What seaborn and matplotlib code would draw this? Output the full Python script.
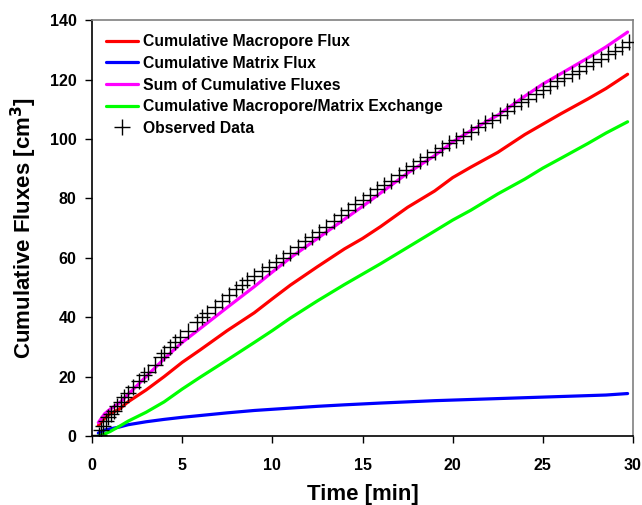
import matplotlib
matplotlib.use('Agg')
import matplotlib.pyplot as plt
from matplotlib.lines import Line2D
import pandas as pd
import seaborn as sns

# simulated curves (min, cm3)
time_sim = [0.35, 0.7, 1, 1.5, 2, 3, 4, 5, 6, 7.5, 9, 10, 11, 12.5, 14, 15, 16,
            17.5, 19, 20, 21, 22.5, 24, 25, 26, 27.5, 28.5, 29.7]
macropore = [3.5, 6, 7.5, 9, 11.5, 15.5, 20, 24.8, 29, 35.5, 41.5, 46.2, 50.8, 57,
             63, 66.5, 70.5, 77, 82.5, 87, 90.5, 95.5, 101.5, 105, 108.5, 113.5, 117, 121.8]
matrix = [1, 2, 2.4, 3, 3.8, 4.8, 5.6, 6.3, 6.9, 7.8, 8.6, 9, 9.4, 10, 10.5, 10.8,
          11.1, 11.5, 11.9, 12.1, 12.3, 12.6, 12.9, 13.1, 13.3, 13.6, 13.8, 14.3]
total = [4.5, 7.5, 9, 11, 14, 20, 26, 31.5, 36.2, 43.3, 50.3, 55.2, 60, 66.5, 73,
         77.3, 81.8, 88.5, 94.4, 99, 102.8, 108, 114.4, 118.5, 122, 127.3, 131, 136]
exchange = [0, 0.7, 1.5, 3.2, 5, 8, 11.5, 15.8, 19.8, 25.6, 31.5, 35.5, 39.7, 45.5,
            51, 54.5, 58, 63.5, 69, 72.7, 76, 81.5, 86.5, 90.2, 93.5, 98.5, 102, 105.8]

# observed data
time_obs = [0.4, 0.5, 0.6, 0.75, 0.9, 1.05, 1.2, 1.4, 1.6, 1.8, 2.0, 2.3, 2.6, 2.9,
            3.1, 3.5, 3.8, 4.0, 4.3, 4.6, 4.9, 5.3, 5.8, 6.1, 6.4, 6.8, 7.2, 7.6,
            8.0, 8.3, 8.6, 9.0, 9.4, 9.8, 10.2, 10.6, 11.0, 11.4, 11.8, 12.2, 12.6,
            13.0, 13.4, 13.8, 14.2, 14.6, 15.0, 15.4, 15.8, 16.2, 16.6, 17.0, 17.4,
            17.8, 18.2, 18.6, 19.0, 19.4, 19.8, 20.2, 20.6, 21.0, 21.4, 21.8, 22.2,
            22.6, 23.0, 23.4, 23.8, 24.2, 24.6, 25.0, 25.4, 25.8, 26.2, 26.6, 27.0,
            27.4, 27.8, 28.2, 28.6, 29.0, 29.4, 29.8]
flux_obs = [0.5, 2, 3.5, 5, 6.5, 7.5, 8.5, 10, 11.5, 13, 14.5, 16.5, 18.5, 20.5,
            21.5, 24, 26.5, 28, 30, 31.5, 33.5, 35.5, 38.5, 40, 41.5, 43.5, 45.5, 47.5,
            49.5, 51, 52.5, 54, 55.5, 57, 58.5, 60, 61.5, 63.5, 65.5, 67, 68.8,
            70.5, 72.5, 74.5, 76, 78, 79.5, 81, 83, 84.5, 86, 88, 89.5,
            91, 92.5, 94, 95.5, 97, 98.5, 99.5, 101, 102.5, 104, 105.5, 106.5,
            108, 109.5, 111, 112.5, 113.5, 115, 116.5, 118, 119.5, 120.5, 122, 123,
            124.5, 126, 127, 128.5, 129.5, 131, 132.5]

series_names = ['Cumulative Macropore Flux', 'Cumulative Matrix Flux',
                'Sum of Cumulative Fluxes', 'Cumulative Macropore/Matrix Exchange']
series_colors = ['#ff0000', '#0000ff', '#ff00ff', '#00ff00']

sns.set_theme(style='ticks')
plt.rcParams['font.family'] = ['Liberation Sans', 'DejaVu Sans']
plt.rcParams['font.weight'] = 'bold'
plt.rcParams['text.color'] = 'black'
plt.rcParams['axes.labelcolor'] = 'black'

fig = plt.figure(figsize=(6.42, 5.05), dpi=100)
ax = fig.add_axes([0.1433, 0.1366, 0.8427, 0.8234])

for name, vals, col in zip(series_names, [macropore, matrix, total, exchange], series_colors):
    df = pd.DataFrame({'t': time_sim, 'v': vals})
    sns.lineplot(data=df, x='t', y='v', color=col, linewidth=2.3, ax=ax, legend=False)

obs = pd.DataFrame({'t': time_obs, 'v': flux_obs})
sns.scatterplot(data=obs, x='t', y='v', marker='+', color='black', s=120,
                linewidth=1.0, ax=ax, legend=False, zorder=5)

ax.set_xlim(0, 30)
ax.set_ylim(0, 140)
ax.set_xticks(range(0, 31, 5))
ax.set_yticks(range(0, 141, 20))
ax.tick_params(axis='both', direction='out', length=5, width=1, labelsize=11.5,
               color='black', labelcolor='black')
ax.tick_params(axis='x', pad=11)
ax.tick_params(axis='y', pad=6)
for lbl in ax.get_xticklabels() + ax.get_yticklabels():
    lbl.set_fontweight('bold')
for side in ['left', 'bottom']:
    ax.spines[side].set_color('black')
    ax.spines[side].set_linewidth(1.2)
for side in ['top', 'right']:
    ax.spines[side].set_color('#808080')
    ax.spines[side].set_linewidth(1.2)

ax.set_xlabel('Time [min]', fontsize=16, fontweight='bold', labelpad=8)
ax.set_ylabel('Cumulative Fluxes [cm$^\\mathbf{3}$]', fontsize=16, fontweight='bold', labelpad=8)

handles = [Line2D([], [], color=c, linewidth=2.3) for c in series_colors]
handles.append(Line2D([], [], color='black', marker='+', linestyle='none',
                      markersize=11, markeredgewidth=1.0))
labels = series_names + ['Observed Data']
ax.legend(handles, labels, loc='upper left', frameon=False,
          handlelength=2.0, handletextpad=0.35, labelspacing=0.42,
          prop={'weight': 'bold', 'size': 11.3})

fig.savefig('out.png', dpi=100)
